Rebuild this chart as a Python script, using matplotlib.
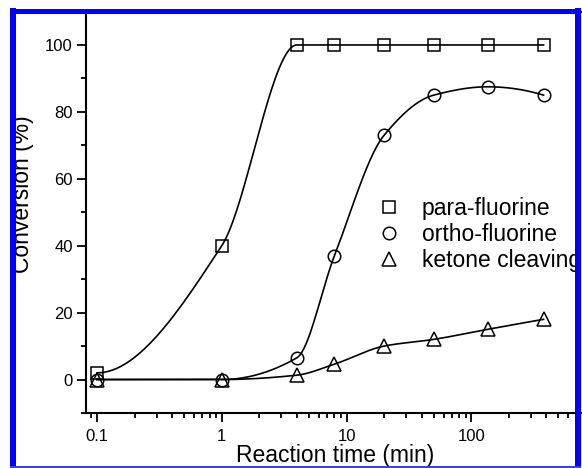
import numpy as np
import matplotlib
matplotlib.use('Agg')
import matplotlib.pyplot as plt
from matplotlib.patches import Rectangle
from matplotlib.lines import Line2D

# reaction time (min)
time_min = [0.1, 1, 4, 8, 20, 50, 135, 380]

# conversion (%)
para_fluorine = [2, 40, 100, 100, 100, 100, 100, 100]
ortho_fluorine = [0, 0, 6.5, 37, 73, 85, 87.5, 85]
ketone_cleaving = [0, 0, 1.3, 4.6, 10, 12, 15, 18]

series_labels = ['para-fluorine', 'ortho-fluorine', 'ketone cleaving']
xtick_vals = [0.1, 1, 10, 100]
xtick_labels = ['0.1', '1', '10', '100']
ytick_vals = [0, 20, 40, 60, 80, 100]


def pchip(xk, yk, xs):
    # monotone cubic (Fritsch-Carlson) smoothing curve through the points
    xk = np.asarray(xk, float)
    yk = np.asarray(yk, float)
    h = np.diff(xk)
    d = np.diff(yk) / h
    n = len(xk)
    m = np.zeros(n)
    for i in range(1, n - 1):
        if d[i - 1] * d[i] > 0:
            w1 = 2 * h[i] + h[i - 1]
            w2 = h[i] + 2 * h[i - 1]
            m[i] = (w1 + w2) / (w1 / d[i - 1] + w2 / d[i])

    def end_slope(h0, h1, d0, d1):
        s = ((2 * h0 + h1) * d0 - h0 * d1) / (h0 + h1)
        if np.sign(s) != np.sign(d0):
            return 0.0
        if np.sign(d0) != np.sign(d1) and abs(s) > abs(3 * d0):
            return 3 * d0
        return s

    m[0] = end_slope(h[0], h[1], d[0], d[1])
    m[-1] = end_slope(h[-1], h[-2], d[-1], d[-2])
    idx = np.clip(np.searchsorted(xk, xs) - 1, 0, n - 2)
    t = (xs - xk[idx]) / h[idx]
    h00 = 2 * t**3 - 3 * t**2 + 1
    h10 = t**3 - 2 * t**2 + t
    h01 = -2 * t**3 + 3 * t**2
    h11 = t**3 - t**2
    return (h00 * yk[idx] + h10 * h[idx] * m[idx]
            + h01 * yk[idx + 1] + h11 * h[idx] * m[idx + 1])


W, H = 582, 468
fig = plt.figure(figsize=(W / 100, H / 100), dpi=100)
plt.rcParams['font.family'] = ['Liberation Sans', 'DejaVu Sans']

ax = fig.add_axes([86 / W, 1 - 413 / H, (596 - 86) / W, (413 - 11.5) / H])

u = np.log10(time_min)
us = np.linspace(u[0], u[-1], 400)
markers = ['s', 'o', '^']
for ys, mk, lab in zip([para_fluorine, ortho_fluorine, ketone_cleaving], markers, series_labels):
    ax.plot(10**us, pchip(u, ys, us), color='black', lw=1.2, zorder=2)
    ax.plot(time_min, ys, ls='none', marker=mk, ms=9 if mk != '^' else 10,
            mfc='none', mec='black', mew=1.1, label=lab, zorder=3)

ax.set_xscale('log')
ax.set_xlim(0.0816, 1000)
ax.set_ylim(-10, 110)
ax.set_xticks(xtick_vals)
ax.set_xticklabels(xtick_labels)
ax.set_yticks(ytick_vals)
ax.set_yticks([-10, 10, 30, 50, 70, 90, 110], minor=True)
ax.xaxis.set_minor_locator(matplotlib.ticker.LogLocator(base=10, subs=np.arange(2, 10)))
ax.xaxis.set_minor_formatter(matplotlib.ticker.NullFormatter())

for sp in ax.spines.values():
    sp.set_linewidth(1.5)
ax.tick_params(which='major', direction='out', length=6.5, width=1.3, labelsize=12, pad=3)
ax.tick_params(which='minor', direction='out', length=3.5, width=1.3)
ax.tick_params(axis='x', which='major', pad=5)

handles = [Line2D([], [], ls='none', marker=mk, ms=9 if mk != '^' else 10,
                  mfc='none', mec='black', mew=1.1) for mk in markers]
ax.legend(handles, series_labels, loc='upper left',
          bbox_to_anchor=(378 / W, 1 - 197 / H), bbox_transform=fig.transFigure,
          frameon=False, fontsize=16.5, borderpad=0, borderaxespad=0,
          handlelength=1.0, handletextpad=0.9, labelspacing=0.14)

fig.text(23 / W, 1 - 194 / H, 'Conversion (%)', rotation=90, ha='center', va='center',
         fontsize=16.5)
fig.text(335 / W, 1 - 444 / H, 'Reaction time (min)', ha='center', va='top', fontsize=16.5)

# blue frame around the figure
blue = '#0000ff'
frame = [(10, 8.5, 5.5, H), (10, 8.5, 571, 5.5), (575, 8.5, 6, H)]
for x0, y0, w, h in frame:
    fig.add_artist(Rectangle((x0 / W, 1 - (y0 + h) / H), w / W, h / H,
                             transform=fig.transFigure, color=blue, lw=0, zorder=10))
fig.add_artist(Rectangle((10 / W, 1 - 467.5 / H), 571 / W, 1.5 / H,
                         transform=fig.transFigure, color='#3344ee', lw=0, zorder=10))

fig.savefig('out.png', dpi=100)
